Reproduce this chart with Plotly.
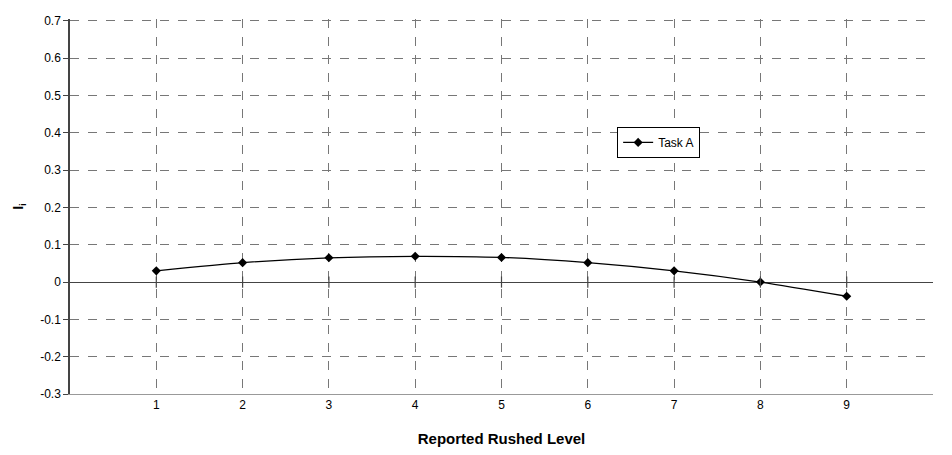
import plotly.graph_objects as go

levels = [1, 2, 3, 4, 5, 6, 7, 8, 9]
task_a = [0.030, 0.052, 0.065, 0.069, 0.066, 0.052, 0.030, 0.000, -0.038]
y_ticks = [-0.3, -0.2, -0.1, 0, 0.1, 0.2, 0.3, 0.4, 0.5, 0.6, 0.7]
y_labels = ["-0.3", "-0.2", "-0.1", "0", "0.1", "0.2", "0.3", "0.4", "0.5", "0.6", "0.7"]

font = "Liberation Sans, Arial, sans-serif"

fig = go.Figure()
fig.add_trace(go.Scatter(
    x=levels, y=task_a, mode="lines+markers", name="Task A",
    line=dict(color="black", width=1.3, shape="spline", smoothing=0.6),
    marker=dict(symbol="diamond", size=7, color="black"),
))
# tick marks on the zero axis line
fig.add_trace(go.Scatter(
    x=levels, y=[0] * len(levels), mode="markers", showlegend=False, hoverinfo="skip",
    marker=dict(symbol="line-ns-open", size=8, color="#444", line=dict(color="#444", width=1.2)),
))

fig.update_layout(
    width=952, height=455,
    margin=dict(l=62, r=27, t=6, b=69),
    paper_bgcolor="white", plot_bgcolor="white",
    font=dict(family=font, size=12, color="black"),
    legend=dict(x=0.634, y=0.671, xanchor="left", yanchor="middle",
                bordercolor="black", borderwidth=1, bgcolor="white",
                font=dict(size=12, color="black"), itemwidth=30, tracegroupgap=0),
    xaxis=dict(
        range=[0, 10], tickvals=levels, ticktext=[str(v) for v in levels],
        showgrid=True, gridcolor="#777", griddash="dash", gridwidth=1,
        zeroline=False, showline=True, linecolor="#999", linewidth=1,
        mirror=False, ticks="", ticklen=0,
        title=dict(text="<b>Reported Rushed Level</b>", font=dict(size=15, color="black"), standoff=22),
        tickfont=dict(size=12, color="black"),
    ),
    yaxis=dict(
        range=[-0.3, 0.705], tickvals=y_ticks, ticktext=y_labels,
        showgrid=True, gridcolor="#777", griddash="dash", gridwidth=1,
        zeroline=True, zerolinecolor="#444", zerolinewidth=1.2,
        showline=True, linecolor="#444", linewidth=1.5,
        ticks="outside", ticklen=5, tickcolor="#444", ticklabeloverflow="allow",
        title=dict(text="<b>I<sub>i</sub></b>", font=dict(size=14, color="black"), standoff=13),
        tickfont=dict(size=12, color="black"),
    ),
)

fig.write_html("out.html")
